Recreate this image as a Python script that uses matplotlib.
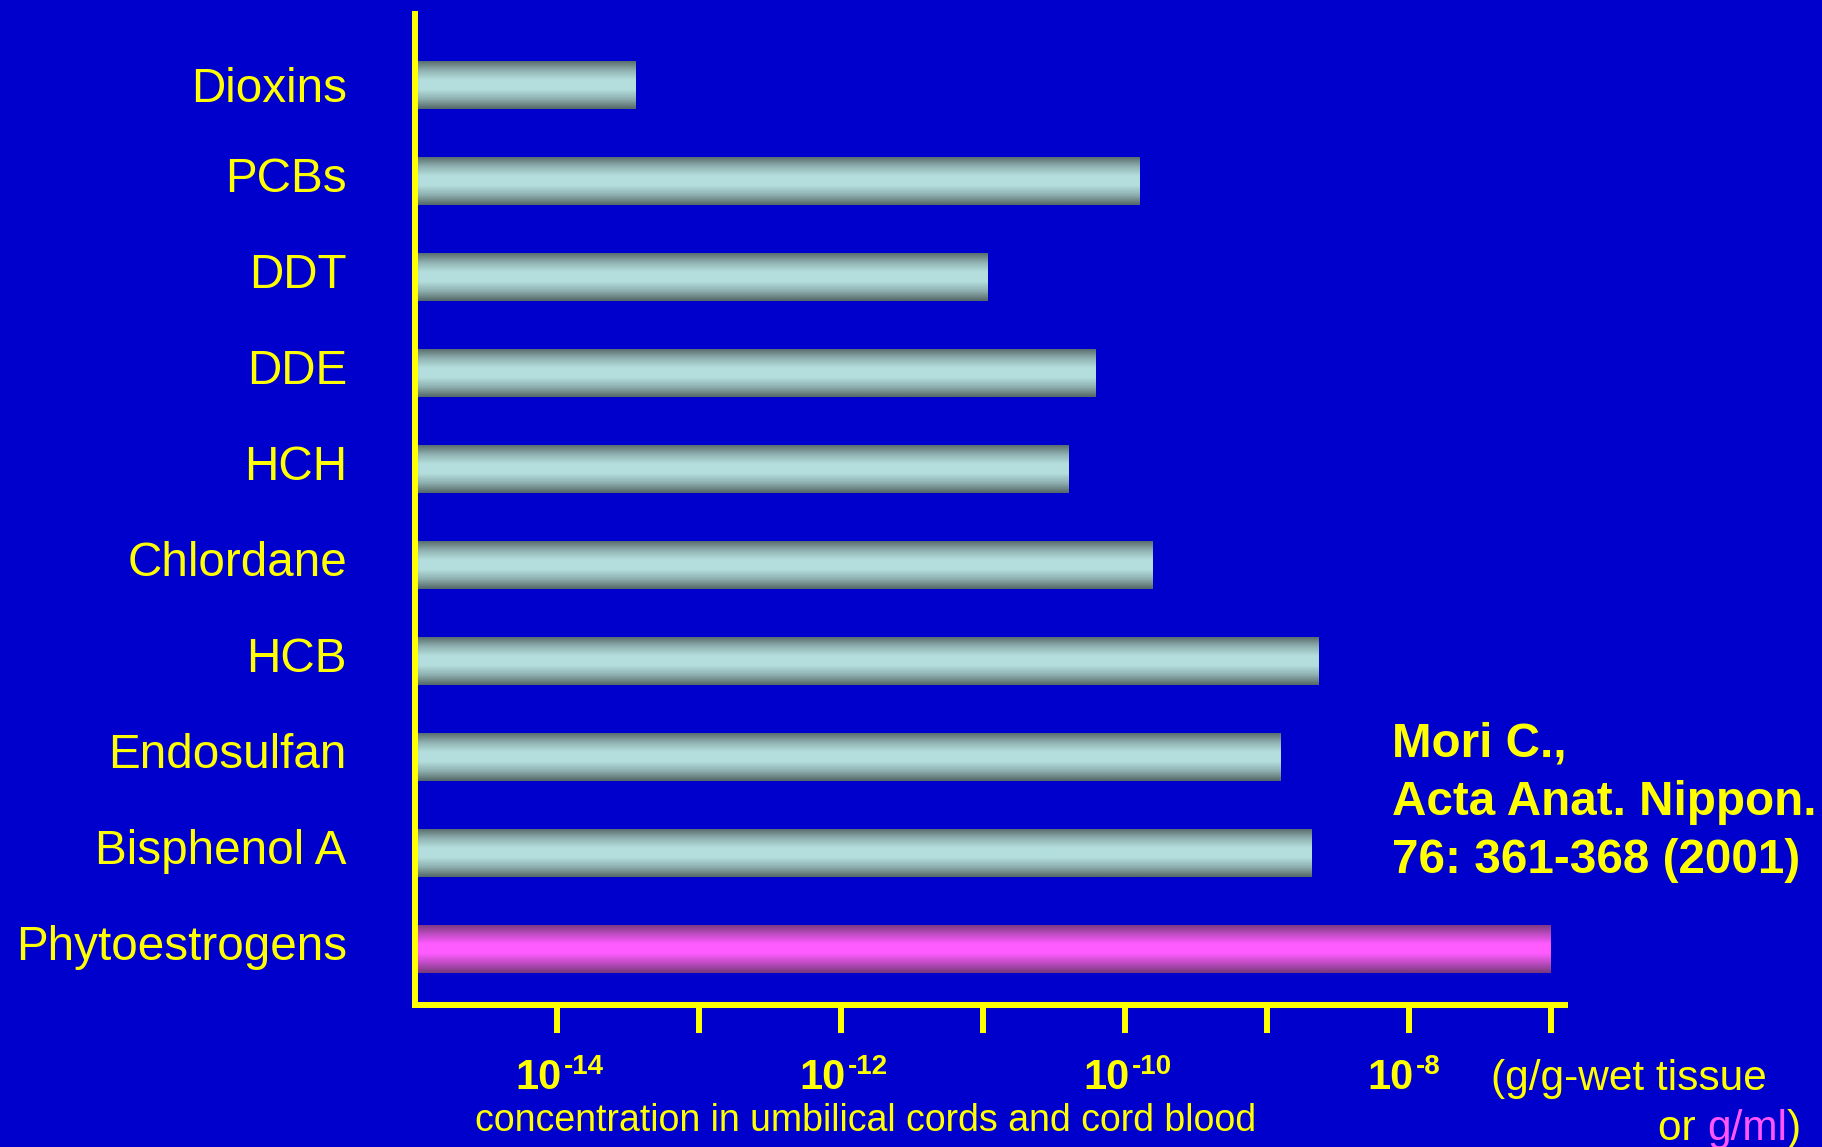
import numpy as np
import matplotlib
matplotlib.use("Agg")
import matplotlib.pyplot as plt
from matplotlib.colors import LinearSegmentedColormap
from matplotlib.transforms import ScaledTranslation

# ---------------- data ----------------
categories = ["Dioxins", "PCBs", "DDT", "DDE", "HCH", "Chlordane", "HCB",
              "Endosulfan", "Bisphenol A", "Phytoestrogens"]
log_conc = [-13.44, -9.89, -10.96, -10.20, -10.39, -9.80, -8.63, -8.90, -8.68, -7.0]
highlight = [False] * 9 + [True]
tick_exps = [-14, -13, -12, -11, -10, -9, -8, -7]
label_exps = [-14, -12, -10, -8]
citation = ["Mori C.,", "Acta Anat. Nippon.", "76: 361-368 (2001)"]
xlabel_text = "concentration in umbilical cords and cord blood"
unit_line1 = "(g/g-wet tissue"
unit_line2 = ["or ", "g/ml", ")"]

# ---------------- style ----------------
BG = "#0000CC"
YEL = "#FFFF00"
MAG = "#FF55FF"
plt.rcParams["font.family"] = ["Liberation Sans", "DejaVu Sans"]

W, H = 1822, 1147
fig = plt.figure(figsize=(W / 100, H / 100), dpi=100, facecolor=BG)

ax_l, ax_r, ax_t, ax_b = 415, 1565, 14, 1005
ax = fig.add_axes([ax_l / W, (H - ax_b) / H, (ax_r - ax_l) / W, (ax_b - ax_t) / H])
ax.set_facecolor(BG)
ax.set_xscale("log")
ypos = np.arange(len(categories))

teal_cmap = LinearSegmentedColormap.from_list("teal", ["#566a6a", "#8fb0b0", "#b4dede", "#b4dede", "#8fb0b0", "#566a6a"])
mag_cmap = LinearSegmentedColormap.from_list("mag", ["#7a3a7e", "#c04cc4", "#ff5cff", "#ff5cff", "#c04cc4", "#7a3a7e"])
grad = np.linspace(0, 1, 256).reshape(-1, 1)

bar_h = 0.5
left = 1e-15
bars = ax.barh(ypos, [10 ** v - left for v in log_conc], left=left, height=bar_h,
               color="none", edgecolor="none")
for b, y, v, hl in zip(bars, ypos, log_conc, highlight):
    im = ax.imshow(grad, cmap=mag_cmap if hl else teal_cmap, aspect="auto",
                   extent=[left, 10 ** v, y + bar_h / 2, y - bar_h / 2],
                   interpolation="bilinear", zorder=2)
    im.set_clip_path(b)

ax.set_xlim(1e-15, 10 ** (-15 + (ax_r - ax_l) / 142.0))
ax.set_ylim(9 + (ax_b - 949) / 96.0, -(85 - ax_t) / 96.0)

# spines
for s in ["top", "right"]:
    ax.spines[s].set_visible(False)
for s in ["left", "bottom"]:
    ax.spines[s].set_color(YEL)
    ax.spines[s].set_linewidth(4.3)
    ax.spines[s].set_zorder(5)

# x ticks
ax.set_xticks([10.0 ** e for e in tick_exps])
ax.set_xticklabels([""] * len(tick_exps))
ax.xaxis.set_minor_locator(matplotlib.ticker.NullLocator())
ax.tick_params(axis="x", which="major", direction="out", length=20, width=4.3, color=YEL)

# y tick labels = categories
ax.set_yticks(ypos)
ax.set_yticklabels(categories)
ax.tick_params(axis="y", length=0, pad=49, labelsize=34.3, labelcolor=YEL)
shift = ScaledTranslation(0, 6 / 100, fig.dpi_scale_trans)
for i, lab in enumerate(ax.get_yticklabels()):
    if i > 0:
        lab.set_transform(lab.get_transform() + shift)

# exponent tick labels
for e in label_exps:
    ax.annotate("10", xy=(10.0 ** e, 0), xycoords=("data", "axes fraction"),
                xytext=(3.5, -60.5), textcoords="offset points",
                ha="right", va="baseline", fontsize=30, fontweight="bold", color=YEL)
    ax.annotate(str(e), xy=(10.0 ** e, 0), xycoords=("data", "axes fraction"),
                xytext=(5, -50), textcoords="offset points",
                ha="left", va="baseline", fontsize=20, fontweight="bold", color=YEL)

# axis description
fig.text(866 / W, (H - 1131) / H, xlabel_text, ha="center", va="baseline",
         fontsize=27, color=YEL)
fig.text(1491 / W, (H - 1090) / H, unit_line1, ha="left", va="baseline",
         fontsize=30.5, color=YEL)
t3 = fig.text(1801 / W, (H - 1140) / H, unit_line2[2], ha="right", va="baseline",
              fontsize=30.5, color=YEL)
t2 = ax.annotate(unit_line2[1], xy=(0, 0), xycoords=t3, ha="right", va="bottom",
                 fontsize=30.5, color=MAG, annotation_clip=False)
t1 = ax.annotate(unit_line2[0], xy=(0, 0), xycoords=t2, ha="right", va="bottom",
                 fontsize=30.5, color=YEL, annotation_clip=False)

# citation
for i, line in enumerate(citation):
    fig.text(1392 / W, (H - (757 + 58 * i)) / H, line, ha="left", va="baseline",
             fontsize=34.3, fontweight="bold", color=YEL)

fig.savefig("out.png", dpi=100, facecolor=BG)
